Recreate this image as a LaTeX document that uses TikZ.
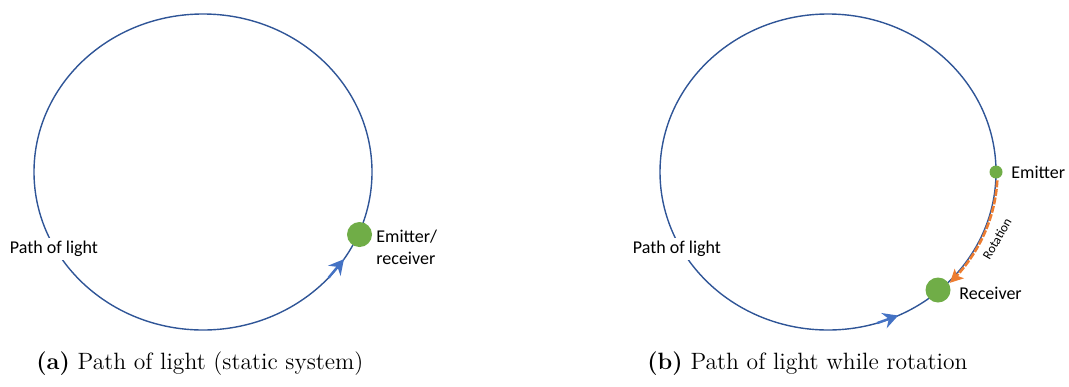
\documentclass[tikz,border=0pt]{standalone}
\usepackage{fontspec}
\newfontfamily\labelfont{Carlito}
\usetikzlibrary{arrows.meta}
\definecolor{pathblue}{HTML}{2F5597}
\definecolor{tipblue}{HTML}{4472C4}
\definecolor{dotgreen}{HTML}{70AD47}
\definecolor{rotorange}{HTML}{ED7D31}

\begin{document}
\begin{tikzpicture}[x=0.5pt,y=-0.5pt,
  lightpath/.style={draw=pathblue,line width=0.7pt},
  lighttip/.style={draw=tipblue,line width=1.2pt,-{Stealth[length=7.5pt,width=8pt,inset=2.5pt]}},
  station/.style={circle,fill=dotgreen,inner sep=0pt},
  lbl/.style={font=\labelfont\fontsize{9}{11}\selectfont,inner sep=0pt},
  pathlbl/.style={lbl,fill=white,inner sep=1.5pt},
  caption/.style={font=\fontsize{11.8}{14}\selectfont,anchor=base west,inner sep=0pt}]
\useasboundingbox (0,0) rectangle (1069,386);

% ---- (a) static system ----
\draw[lightpath] (203,172) ellipse [x radius=169, y radius=158];
\draw[lighttip] ({203+169*cos(42)},{172+158*sin(42)}) -- ({203+169*cos(33.5)},{172+158*sin(33.5)});
\node[station,minimum size=12.5pt] (er) at (359.5,234.5) {};
\node[lbl,anchor=west,align=left] (erlbl) at (376,247) {Emitter/\\receiver};
\node[pathlbl] (pathA) at (54,249) {Path of light};
\node[caption] (capA) at (36,369) {\textbf{(a)} Path of light (static system)};

% ---- (b) rotating system ----
\draw[lightpath] (828,172) ellipse [x radius=168, y radius=158];
\draw[lighttip] ({828+168*cos(73)},{172+158*sin(73)}) -- ({828+168*cos(65.3)},{172+158*sin(65.3)});
\draw[rotorange,line width=1.3pt,dash pattern=on 3.5pt off 0.8pt,-{Stealth[length=6.5pt,width=6.5pt,inset=1.5pt]}]
  plot[domain=3:44,samples=40,smooth] ({828+169.5*cos(\x)},{172+159.5*sin(\x)});
\node[lbl,font=\labelfont\fontsize{6.5}{8}\selectfont,rotate=60] (rot) at (997,239) {Rotation};
\node[station,minimum size=6.5pt] (em) at (996,172) {};
\node[station,minimum size=12.5pt] (rc) at (938,290) {};
\node[lbl,anchor=west] (emlbl) at (1011,172) {Emitter};
\node[lbl,anchor=west] (rclbl) at (959,293) {Receiver};
\node[pathlbl] (pathB) at (677,249) {Path of light};
\node[caption] (capB) at (647,369) {\textbf{(b)} Path of light while rotation};
\end{tikzpicture}
\end{document}
